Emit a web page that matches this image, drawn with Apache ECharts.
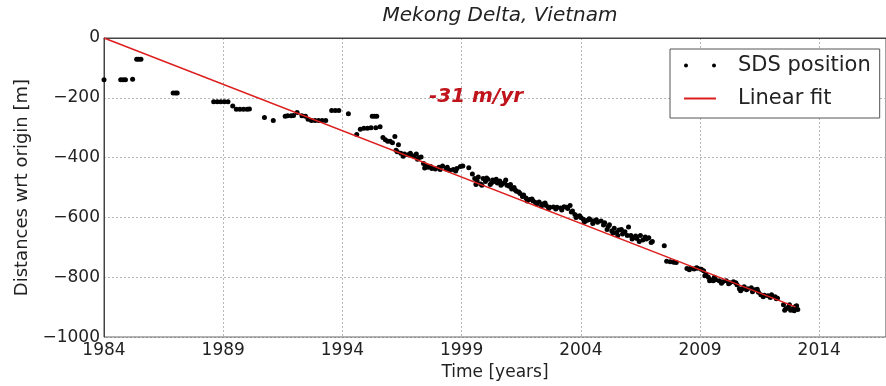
<!DOCTYPE html>
<html>
<head>
<meta charset="utf-8">
<script src="https://cdn.jsdelivr.net/npm/echarts@6/dist/echarts.min.js"></script>
<style>
html,body{margin:0;padding:0;background:#fff;}
#chart{width:886px;height:386px;}
</style>
</head>
<body>
<div id="chart"></div>
<script>
// ---- data ----
const xStartYear = 1984;
const xTickYears = [1984, 1989, 1994, 1999, 2004, 2009, 2014];
const yTicks = [0, -200, -400, -600, -800, -1000];

const sdsYears = [
  1984.0, 1984.7, 1984.8, 1984.9, 1985.2, 1985.37, 1985.45, 1985.55,
  1986.9, 1987.0, 1987.07, 1988.6, 1988.75, 1988.9, 1989.05, 1989.2,
  1989.4, 1989.55, 1989.7, 1989.85, 1990.0, 1990.1, 1990.73, 1991.1,
  1991.6, 1991.7, 1991.85, 1991.95, 1992.1, 1992.3, 1992.45, 1992.56,
  1992.7, 1992.85, 1993.0, 1993.15, 1993.3, 1993.55, 1993.7, 1993.85,
  1994.25, 1994.6, 1994.75, 1994.9, 1995.05, 1995.2, 1995.25, 1995.35,
  1995.44, 1995.4, 1995.58, 1995.7, 1995.8, 1995.9, 1996.0, 1996.1,
  1996.2, 1996.35, 1996.3, 1996.45, 1996.6, 1996.75, 1996.9, 1997.0,
  1997.1, 1997.2, 1997.3, 1997.4, 1997.5, 1997.6, 1997.75, 1997.9,
  1998.05, 1998.2, 1998.35, 1998.5, 1998.65, 1998.8, 1998.95, 1999.3,
  1999.45, 1999.55, 1999.6, 1999.7, 1999.8, 1999.9, 2000.0, 2000.1,
  2000.2, 2000.3, 2000.4, 2000.5, 2000.6, 2000.7, 2000.8, 2000.9,
  2001.0, 2001.1, 2001.2, 2001.3, 2001.45, 2001.55, 2001.7, 2001.85,
  2002.0, 2002.1, 2002.25, 2002.4, 2002.55, 2002.7, 2002.85, 2003.0,
  2003.15, 2003.3, 2003.45, 2003.55, 2003.65, 2003.75, 2003.85, 2004.0,
  2004.1, 2004.25, 2004.4, 2004.55, 2004.7, 2004.85, 2005.0, 2005.1,
  2005.2, 2005.3, 2005.4, 2005.5, 2005.6, 2005.75, 2005.85, 2006.0,
  2006.1, 2006.2, 2006.35, 2006.5, 2006.6, 2006.75, 2006.85, 2007.0,
  2007.5, 2007.6, 2007.75, 2007.9, 2008.0, 2008.45, 2008.6, 2008.75,
  2008.9, 2009.05, 2009.15, 2009.25, 2009.35, 2009.45, 2009.55, 2009.65,
  2009.8, 2009.95, 2010.1, 2010.25, 2010.4, 2010.55, 2010.65, 2010.75,
  2010.85, 2011.0, 2011.15, 2011.3, 2011.45, 2011.55, 2011.7, 2011.85,
  2012.0, 2012.15, 2012.25, 2012.5, 2012.6, 2012.7, 2012.8, 2012.9,
  2013.0, 2013.1,
  1996.25, 1996.55, 1996.85, 1997.15, 1997.45, 1997.7, 1998.1, 1998.4,
  1998.75, 1999.05, 1999.65, 1999.85, 2000.05, 2000.25, 2000.45, 2000.65,
  2000.85, 2001.05, 2001.25, 2001.4, 2001.6, 2001.75, 2001.95, 2002.15,
  2002.35, 2002.5, 2002.65, 2002.95, 2003.2, 2003.4, 2003.6, 2003.8,
  2003.95, 2004.15, 2004.35, 2004.5, 2004.65, 2004.95, 2005.15, 2005.35,
  2005.55, 2005.7, 2005.95, 2006.15, 2006.3, 2006.45, 2006.7, 2006.95,
  2008.55, 2008.85, 2009.2, 2009.4, 2009.6, 2009.9, 2010.2, 2010.5,
  2010.7, 2010.95, 2011.2, 2011.4, 2011.65, 2011.95, 2012.2, 2012.55,
  2012.75, 2012.95, 2013.05
];
const sdsDist = [
  -140, -140, -140, -140, -138, -71, -71, -71,
  -184, -184, -184, -213, -213, -213, -213, -213,
  -227, -238, -238, -238, -238, -237, -266, -276,
  -262, -260, -260, -259, -249, -260, -262, -272,
  -276, -276, -276, -276, -276, -242, -242, -242,
  -253, -323, -305, -302, -302, -300, -262, -262,
  -262, -300, -297, -333, -340, -345, -345, -350,
  -329, -357, -380, -385, -388, -390, -392, -395,
  -388, -400, -398, -420, -428, -432, -436, -438,
  -432, -428, -438, -442, -440, -436, -430, -434,
  -455, -470, -490, -465, -488, -470, -480, -472,
  -490, -475, -480, -485, -478, -488, -483, -492,
  -496, -505, -500, -512, -520, -530, -535, -540,
  -545, -550, -548, -555, -560, -566, -565, -566,
  -568, -564, -570, -560, -578, -590, -596, -600,
  -606, -610, -608, -612, -616, -612, -618, -640,
  -624, -645, -636, -650, -642, -655, -648, -632,
  -660, -668, -670, -660, -675, -672, -668, -680,
  -695, -746, -748, -750, -751, -771, -770, -772,
  -770, -773, -778, -790, -800, -808, -812, -808,
  -812, -815, -812, -818, -815, -825, -838, -840,
  -832, -838, -835, -842, -850, -858, -860, -862,
  -858, -865, -870, -892, -905, -900, -910, -905,
  -898, -908,
  -375, -395, -385, -405, -435, -430, -440, -432,
  -445, -428, -478, -492, -468, -485, -472, -492,
  -475, -490, -508, -515, -525, -545, -538, -555,
  -562, -552, -570, -572, -575, -566, -582, -600,
  -594, -615, -604, -620, -608, -625, -630, -652,
  -660, -640, -660, -672, -662, -680, -665, -684,
  -775, -768, -795, -812, -800, -820, -822, -818,
  -845, -842, -848, -840, -865, -868, -872, -910,
  -892, -912, -895
];

const fitYears = [1984, 2013];
const fitDist = [0, -899];

const titleText = 'Mekong Delta, Vietnam';
const rateText = '-31 m/yr';
const xName = 'Time [years]';
const yName = 'Distances wrt origin [m]';
const seriesNames = ['SDS position', 'Linear fit'];

// ---- chart ----
const FONT = 'DejaVu Sans';
const chart = echarts.init(document.getElementById('chart'), null, {renderer: 'canvas'});

const sdsData = sdsYears.map((y, i) => [y - xStartYear, sdsDist[i]]);
const fitData = fitYears.map((y, i) => [y - xStartYear, fitDist[i]]);

const gridLine = {show: true, lineStyle: {color: '#b8b8b8', type: [2, 2], width: 1}};
const RED = '#dc1e1e';

chart.setOption({
  animation: false,
  backgroundColor: '#ffffff',
  textStyle: {fontFamily: FONT},
  title: {
    text: titleText,
    left: 495,
    textAlign: 'center',
    top: 1,
    textStyle: {fontFamily: FONT, fontStyle: 'italic', fontWeight: 'normal', fontSize: 20, color: '#222'}
  },
  grid: {
    left: 104, right: 0, top: 38, bottom: 48,
    show: true, borderColor: '#444', borderWidth: 1, backgroundColor: 'transparent',
    containLabel: false
  },
  legend: {
    orient: 'vertical',
    left: 670, top: 49,
    padding: [6, 9, 9, 13],
    itemGap: 12,
    itemWidth: 32, itemHeight: 4,
    backgroundColor: '#fff',
    borderColor: '#555', borderWidth: 1,
    textStyle: {fontFamily: FONT, fontSize: 21, color: '#222', padding: [0, 0, 0, 17]},
    data: [
      {name: seriesNames[0], icon: 'path://M0,2a2,2 0 1,0 4,0a2,2 0 1,0 -4,0zM28,2a2,2 0 1,0 4,0a2,2 0 1,0 -4,0z'},
      {name: seriesNames[1], itemStyle: {opacity: 0}}
    ]
  },
  xAxis: {
    type: 'value',
    min: 0, max: 32.8, interval: 5,
    name: xName, nameLocation: 'middle', nameGap: 26,
    nameTextStyle: {fontFamily: FONT, fontSize: 17, color: '#222'},
    axisLine: {show: true, lineStyle: {color: '#444'}},
    axisTick: {show: false},
    axisLabel: {
      fontFamily: FONT, fontSize: 17, color: '#222', margin: 5,
      showMaxLabel: false,
      formatter: v => String(v + xStartYear)
    },
    splitLine: gridLine
  },
  yAxis: {
    type: 'value',
    min: -1000, max: 0, interval: 200,
    name: yName, nameLocation: 'middle', nameGap: 69,
    nameTextStyle: {fontFamily: FONT, fontSize: 18, color: '#222'},
    axisLine: {show: true, lineStyle: {color: '#444'}},
    axisTick: {show: false},
    axisLabel: {
      fontFamily: FONT, fontSize: 17, color: '#222', margin: 4,
      formatter: v => (v < 0 ? '\u2212' + Math.abs(v) : String(v))
    },
    splitLine: gridLine
  },
  graphic: [{
    type: 'text',
    left: 429, top: 87,
    style: {
      text: rateText,
      fill: '#c0141c',
      font: 'italic bold 20px "DejaVu Sans"'
    },
    z: 10
  }],
  series: [
    {
      name: seriesNames[0],
      type: 'scatter',
      data: sdsData,
      symbol: 'circle',
      symbolSize: 5,
      itemStyle: {color: '#000', opacity: 1},
      z: 3
    },
    {
      name: seriesNames[1],
      type: 'line',
      data: fitData,
      symbol: 'none',
      lineStyle: {color: RED, width: 1.5},
      itemStyle: {color: RED},
      z: 4
    }
  ]
});
</script>
</body>
</html>
